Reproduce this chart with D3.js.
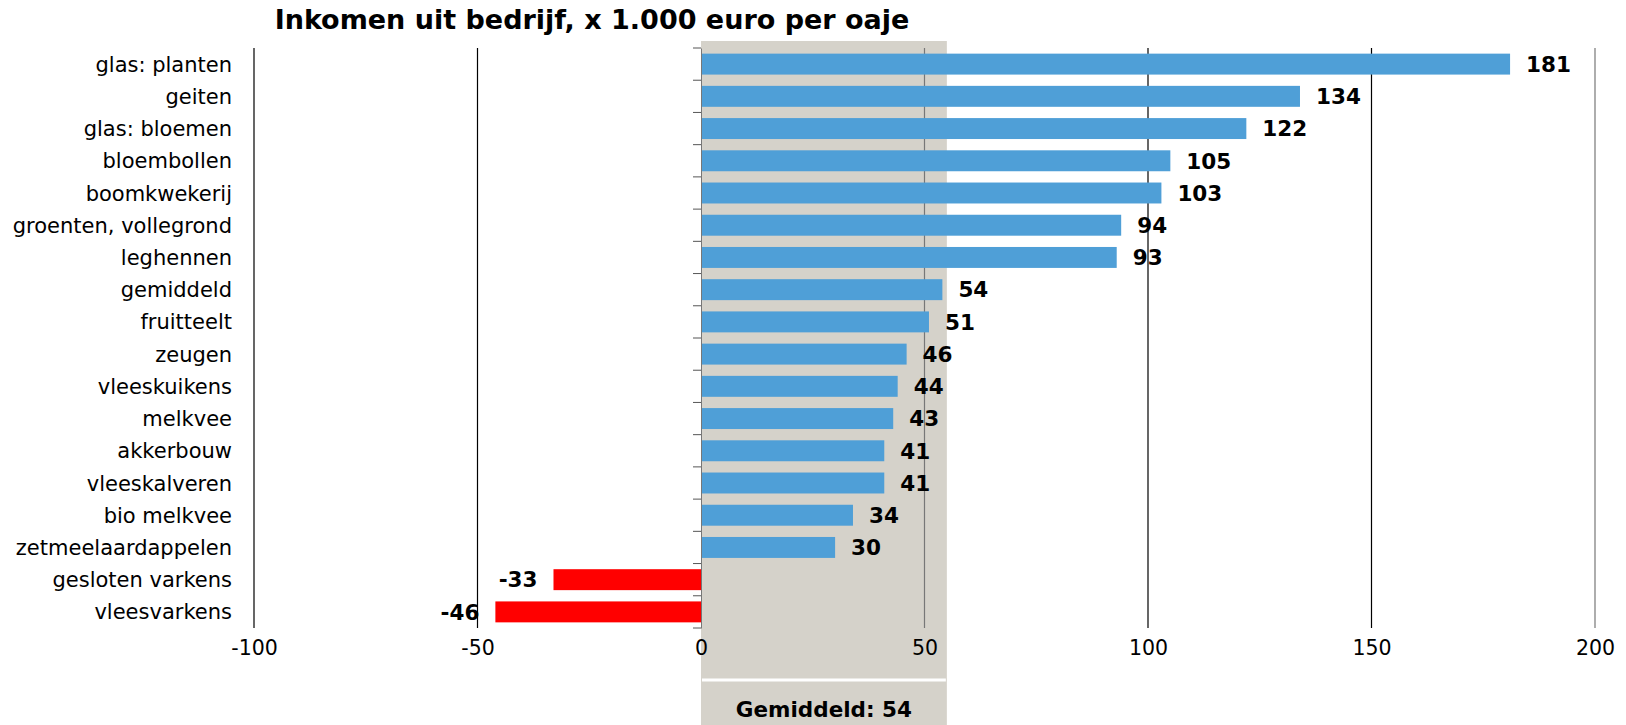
<!DOCTYPE html>
<html>
<head>
<meta charset="utf-8">
<script src="https://cdn.jsdelivr.net/npm/d3@7"></script>
<style>
  body { margin: 0; background: #fff; }
  svg { display: block; font-family: "DejaVu Sans", Verdana, sans-serif; }
</style>
</head>
<body>
<svg id="chart"></svg>
<script>
const categories = ["glas: planten", "geiten", "glas: bloemen", "bloembollen", "boomkwekerij",
  "groenten, vollegrond", "leghennen", "gemiddeld", "fruitteelt", "zeugen", "vleeskuikens",
  "melkvee", "akkerbouw", "vleeskalveren", "bio melkvee", "zetmeelaardappelen",
  "gesloten varkens", "vleesvarkens"]
const values = [181, 134, 122, 105, 103, 94, 93, 54, 51, 46, 44, 43, 41, 41, 34, 30, -33, -46]
const xTicks = [-100, -50, 0, 50, 100, 150, 200]
const average = 54
const bandEnd = 55
const title = "Inkomen uit bedrijf, x 1.000 euro per oaje"

const width = 1626, height = 725
const margin = { top: 48, left: 254, right: 31, bottom: 97 }

const svg = d3.select("#chart").attr("width", width).attr("height", height)

const x = d3.scaleLinear().domain([-100, 200]).range([margin.left, width - margin.right])
const y = d3.scaleBand().domain(categories).range([margin.top, height - margin.bottom]).paddingInner(0.35).paddingOuter(0.175)

// grey average band
svg.append("rect")
  .attr("x", x(0)).attr("y", 41)
  .attr("width", x(bandEnd) - x(0)).attr("height", height - 41)
  .attr("fill", "#d5d2ca")

svg.append("line")
  .attr("x1", x(0) + 1).attr("x2", x(bandEnd) - 1)
  .attr("y1", 680).attr("y2", 680)
  .attr("stroke", "#fff").attr("stroke-width", 3)

svg.append("text")
  .attr("x", (x(0) + x(bandEnd)) / 2).attr("y", 717)
  .attr("text-anchor", "middle")
  .style("font-size", "21.5px").style("font-weight", "bold")
  .text("Gemiddeld: " + average)

// gridlines
svg.append("g").selectAll("line")
  .data(xTicks.filter(d => d !== 0))
  .join("line")
  .attr("x1", d => x(d)).attr("x2", d => x(d))
  .attr("y1", margin.top).attr("y2", height - margin.bottom)
  .attr("stroke", d => (d === 200 || d === 50) ? "#777" : "#000")
  .attr("stroke-width", 1.2)

// x tick labels
const xAxis = svg.append("g")
  .attr("transform", "translate(0," + (height - margin.bottom) + ")")
  .call(d3.axisBottom(x).tickValues(xTicks).tickSize(0).tickPadding(12).tickFormat(d => String(d)))
xAxis.select(".domain").remove()
xAxis.selectAll("text").style("font-size", "20.5px").attr("fill", "#000").attr("font-family", "DejaVu Sans")

// bars
svg.append("g").selectAll("rect")
  .data(values)
  .join("rect")
  .attr("x", d => x(Math.min(0, d)))
  .attr("y", (d, i) => y(categories[i]))
  .attr("width", d => Math.abs(x(d) - x(0)))
  .attr("height", y.bandwidth())
  .attr("fill", d => d < 0 ? "#ff0000" : "#4f9fd7")

// value labels
svg.append("g").selectAll("text")
  .data(values)
  .join("text")
  .attr("x", d => d < 0 ? x(d) - 16 : x(d) + 16)
  .attr("y", (d, i) => y(categories[i]) + y.bandwidth() / 2)
  .attr("dy", "0.36em")
  .attr("text-anchor", d => d < 0 ? "end" : "start")
  .style("font-size", "21.5px").style("font-weight", "bold")
  .text(d => d)

// y axis at zero
const yAxis = svg.append("g")
  .attr("transform", "translate(" + x(0) + ",0)")
  .call(d3.axisLeft(y).tickSize(0).tickFormat(""))
yAxis.select(".domain").attr("stroke", "#777")
const step = y.step()
yAxis.selectAll(".bnd")
  .data(d3.range(categories.length + 1))
  .join("line")
  .attr("x1", -8).attr("x2", 0)
  .attr("y1", i => margin.top + i * step).attr("y2", i => margin.top + i * step)
  .attr("stroke", "#555")

// category labels
svg.append("g").selectAll("text")
  .data(categories)
  .join("text")
  .attr("x", 232)
  .attr("y", d => y(d) + y.bandwidth() / 2)
  .attr("dy", "0.36em")
  .attr("text-anchor", "end")
  .style("font-size", "21px")
  .text(d => d)

svg.append("text")
  .attr("x", 592).attr("y", 29)
  .attr("text-anchor", "middle")
  .style("font-size", "27px").style("font-weight", "bold")
  .text(title)
</script>
</body>
</html>
